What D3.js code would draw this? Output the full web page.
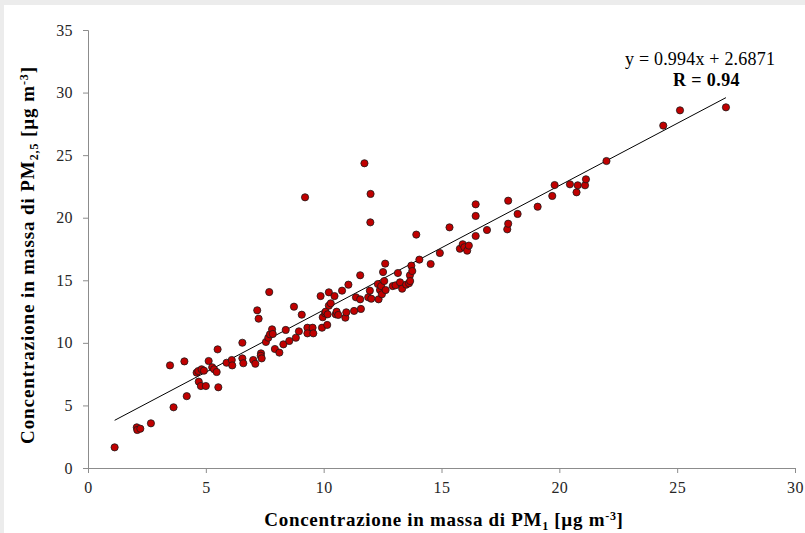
<!DOCTYPE html>
<html lang="it">
<head>
<meta charset="utf-8">
<title>PM1 vs PM2.5</title>
<script src="https://cdn.jsdelivr.net/npm/d3@7"></script>
<style>
  body { margin: 0; background: #eeeeee; }
  text { font-family: "Liberation Serif", "DejaVu Serif", serif; }
</style>
</head>
<body>
<script>

// PM1 concentrations (x)
var pm1 = [
  1.13, 2.07, 2.09, 2.22, 2.67, 3.48, 3.63, 4.09, 4.19, 4.61,
  4.68, 4.70, 4.79, 4.82, 4.92, 5.00, 5.12, 5.27, 5.35, 5.46,
  5.50, 5.53, 5.88, 6.10, 6.12, 6.55, 6.55, 6.59, 7.01, 7.10,
  7.18, 7.24, 7.34, 7.33, 7.37, 7.55, 7.65, 7.69, 7.72, 7.81,
  7.84, 7.93, 8.12, 8.29, 8.39, 8.54, 8.74, 8.82, 8.95, 9.07,
  9.21, 9.31, 9.31, 9.53, 9.56, 9.87, 9.93, 9.96, 10.06, 10.08,
  10.15, 10.17, 10.22, 10.22, 10.30, 10.46, 10.51, 10.55, 10.62, 10.78,
  10.92, 10.96, 11.05, 11.29, 11.37, 11.55, 11.55, 11.58, 11.73, 11.89,
  11.96, 11.99, 11.98, 12.02, 12.30, 12.33, 12.39, 12.44, 12.47, 12.52,
  12.57, 12.61, 12.63, 12.93, 13.05, 13.15, 13.24, 13.33, 13.50, 13.62,
  13.66, 13.67, 13.72, 13.76, 13.93, 14.06, 14.54, 14.93, 15.34, 15.78,
  15.90, 15.97, 16.09, 16.16, 16.45, 16.45, 16.45, 16.93, 17.79, 17.83,
  17.83, 18.23, 19.08, 19.70, 19.80, 20.45, 20.73, 20.78, 21.09, 21.13,
  22.00, 24.41, 25.12, 27.07
];

// PM2.5 concentrations (y), same order
var pm25 = [
  1.65, 3.25, 3.04, 3.14, 3.57, 8.20, 4.85, 8.52, 5.74, 7.62,
  7.75, 6.90, 6.55, 7.89, 7.78, 6.55, 8.55, 8.05, 7.89, 7.67,
  9.48, 6.45, 8.41, 8.63, 8.20, 10.01, 8.76, 8.37, 8.63, 8.33,
  12.60, 11.93, 9.16, 8.97, 8.76, 10.07, 10.41, 14.06, 10.68, 11.08,
  10.71, 9.51, 9.22, 9.88, 11.03, 10.15, 12.89, 10.41, 10.92, 12.25,
  21.63, 11.21, 10.76, 11.21, 10.76, 13.74, 11.21, 12.05, 12.36, 12.49,
  11.43, 12.28, 14.04, 12.97, 13.16, 13.74, 12.28, 12.49, 12.23, 14.17,
  12.01, 12.44, 14.65, 12.55, 13.64, 13.48, 15.40, 12.71, 24.35, 13.64,
  14.17, 21.90, 19.63, 13.53, 14.70, 13.48, 14.22, 14.54, 13.88, 15.66,
  14.94, 16.33, 14.22, 14.54, 14.60, 15.58, 14.84, 14.33, 14.65, 14.76,
  15.40, 14.94, 16.17, 15.74, 18.65, 16.65, 16.30, 17.18, 19.23, 17.52,
  17.88, 17.64, 17.37, 17.77, 21.07, 20.14, 18.54, 19.02, 19.07, 19.52,
  21.36, 20.30, 20.88, 21.74, 22.61, 22.67, 22.03, 22.59, 22.59, 23.07,
  24.53, 27.36, 28.58, 28.82
];

var xTicks = [0, 5, 10, 15, 20, 25, 30];
var yTicks = [0, 5, 10, 15, 20, 25, 30, 35];

// linear trend shown on the chart
var slope = 0.994;
var intercept = 2.6871;

var w = 805, h = 533;
var axisColor = "#8c8c8c";

var svg = d3.select("body").append("svg")
    .attr("width", w)
    .attr("height", h)
    .style("display", "block");

// white card with the grey border at top and left
svg.append("rect").attr("x", 0).attr("y", 0).attr("width", w).attr("height", h).attr("fill", "#ececec");
svg.append("rect").attr("x", 4).attr("y", 5).attr("width", w - 4).attr("height", h - 5).attr("fill", "#ffffff");

var x = d3.scaleLinear().domain([0, 30]).range([88, 795]);
var y = d3.scaleLinear().domain([0, 35]).range([468, 30]);

// axes
var xAxis = svg.append("g")
    .attr("transform", "translate(0," + y(0) + ")")
    .call(d3.axisBottom(x).tickValues(xTicks).tickSize(5).tickPadding(9));

var yAxis = svg.append("g")
    .attr("transform", "translate(" + x(0) + ",0)")
    .call(d3.axisLeft(y).tickValues(yTicks).tickSize(5).tickPadding(10));

[xAxis, yAxis].forEach(function(a) {
  a.select(".domain").attr("stroke", axisColor);
  a.selectAll(".tick line").attr("stroke", axisColor);
  a.selectAll(".tick text")
    .attr("fill", "#262626")
    .style("font-family", "'Liberation Serif', serif")
    .style("font-size", "16px")
    .style("letter-spacing", "0.4px");
});

// trend line across the data range
var xr = d3.extent(pm1);
svg.append("line")
    .attr("x1", x(xr[0])).attr("y1", y(slope * xr[0] + intercept))
    .attr("x2", x(xr[1])).attr("y2", y(slope * xr[1] + intercept))
    .attr("stroke", "#000")
    .attr("stroke-width", 1);

// points
svg.append("g").selectAll("circle")
    .data(pm1)
    .enter()
    .append("circle")
    .attr("cx", function(d) { return x(d); })
    .attr("cy", function(d, i) { return y(pm25[i]); })
    .attr("r", 3.6)
    .attr("fill", "#c00000")
    .attr("stroke", "#1a1a1a")
    .attr("stroke-width", 0.8);

// equation and R
svg.append("text")
    .attr("x", 625).attr("y", 65)
    .attr("fill", "#000")
    .style("font-size", "18px")
    .style("letter-spacing", "0.2px")
    .text("y = 0.994x + 2.6871");

svg.append("text")
    .attr("x", 673).attr("y", 86)
    .attr("fill", "#000")
    .style("font-size", "18px")
    .style("font-weight", "bold")
    .style("letter-spacing", "0.4px")
    .text("R = 0.94");

// axis titles
var xt = svg.append("text")
    .attr("x", 444).attr("y", 526)
    .attr("text-anchor", "middle")
    .style("font-size", "19px")
    .style("font-weight", "bold")
    .style("letter-spacing", "0.7px")
    .attr("fill", "#000");
xt.append("tspan").text("Concentrazione in massa di PM");
xt.append("tspan").attr("dy", 4).style("font-size", "12px").text("1");
xt.append("tspan").attr("dy", -4).text(" [µg m");
xt.append("tspan").attr("dy", -6).style("font-size", "12px").text("-3");
xt.append("tspan").attr("dy", 6).text("]");

var yt = svg.append("text")
    .attr("transform", "translate(34,255) rotate(-90)")
    .attr("text-anchor", "middle")
    .style("font-size", "19px")
    .style("font-weight", "bold")
    .style("letter-spacing", "0.9px")
    .attr("fill", "#000");
yt.append("tspan").text("Concentrazione in massa di PM");
yt.append("tspan").attr("dy", 4).style("font-size", "12px").text("2,5");
yt.append("tspan").attr("dy", -4).text(" [µg m");
yt.append("tspan").attr("dy", -6).style("font-size", "12px").text("-3");
yt.append("tspan").attr("dy", 6).text("]");

</script>
</body>
</html>
